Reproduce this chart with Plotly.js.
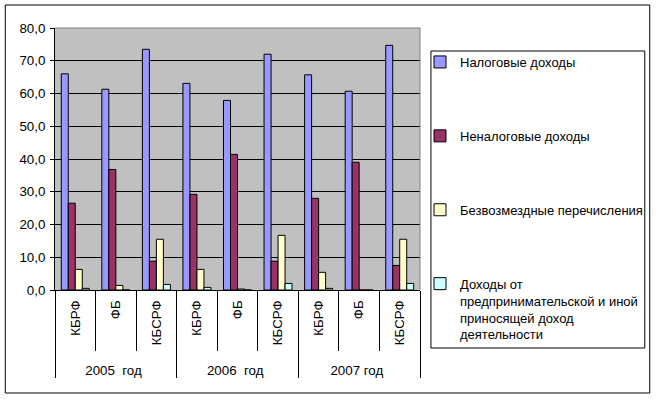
<!DOCTYPE html>
<html>
<head>
<meta charset="utf-8">
<script src="https://cdn.plot.ly/plotly-3.0.1.min.js"></script>
<style>html,body{margin:0;padding:0;background:#fff;}</style>
</head>
<body>
<div id="chart" style="width:660px;height:399px;"></div>
<script>
const years = ['2005\u00a0 год', '2006\u00a0 год', '2007 год'];
const budgets = ['КБРФ', 'ФБ', 'КБСРФ'];
const seriesNames = [
  'Налоговые доходы',
  'Неналоговые доходы',
  'Безвозмездные перечисления',
  'Доходы от<br>предпринимательской и иной<br>приносящей доход<br>деятельности'
];
const taxRevenue    = [66.0, 61.3, 73.5, 63.1, 57.9, 72.0, 65.7, 60.7, 74.7];
const nonTaxRevenue = [26.5, 36.8, 8.8, 29.2, 41.4, 8.8, 28.0, 39.0, 7.5];
const grants        = [6.3, 1.4, 15.5, 6.3, 0.3, 16.7, 5.4, 0.0, 15.5];
const businessIncome= [0.5, 0.0, 1.7, 0.8, 0.0, 2.0, 0.5, 0.0, 2.0];
const colors = ['#9999FF', '#993366', '#FFFFCC', '#CCFFFF'];

const outer = [], inner = [];
years.forEach(y => budgets.forEach(b => { outer.push(y); inner.push('\u00a0\u00a0' + b); }));

const allSeries = [taxRevenue, nonTaxRevenue, grants, businessIncome];
const traces = allSeries.map((vals, i) => ({
  type: 'bar',
  x: [outer, inner],
  y: vals,
  name: seriesNames[i],
  legendgroup: 'g' + i,
  marker: {color: colors[i], line: {color: '#000', width: 1}}
}));

const L = 55, R = 422, T = 28, B = 290;
const px = v => (v - L) / (R - L);
const py = v => (B - v) / (B - T);
const FONT = 'Liberation Sans, Arial, sans-serif';
const FS = 13.33;

const layout = {
  width: 660, height: 399,
  margin: {l: L, r: 660 - R, t: T, b: 399 - B, pad: 0},
  paper_bgcolor: '#fff',
  plot_bgcolor: '#C0C0C0',
  separators: ', ',
  font: {family: FONT, size: FS, color: '#000'},
  barmode: 'group',
  bargap: 0.31,
  bargroupgap: 0,
  showlegend: true,
  legend: {
    xref: 'container', yref: 'container',
    x: 420 / 660, xanchor: 'left',
    y: 1 - 47 / 399, yanchor: 'top',
    maxheight: 380,
    valign: 'top',
    bgcolor: 'rgba(0,0,0,0)', borderwidth: 0,
    tracegroupgap: 54,
    font: {family: FONT, size: 13, color: '#000'},
    itemclick: false
  },
  xaxis: {
    type: 'multicategory',
    showline: true, linecolor: '#000', linewidth: 1,
    ticks: 'outside', tickson: 'boundaries', ticklen: 60, tickcolor: '#000', tickwidth: 1,
    ticklabelstandoff: 4,
    tickangle: -90,
    showdividers: true, dividercolor: '#000', dividerwidth: 1,
    tickfont: {family: FONT, size: FS, color: '#000'},
    showgrid: false, zeroline: false
  },
  yaxis: {
    range: [0, 80], dtick: 10, tickformat: '.1f',
    showline: true, linecolor: '#000', linewidth: 1,
    ticks: 'outside', ticklen: 4, tickcolor: '#000',
    ticklabelstandoff: 2,
    showgrid: true, gridcolor: '#000', gridwidth: 1,
    zeroline: false,
    tickfont: {family: FONT, size: FS, color: '#000'}
  },
  shapes: [
    {type: 'rect', xref: 'paper', yref: 'paper', x0: px(5), x1: px(653), y0: py(393), y1: py(5),
     line: {color: '#000', width: 1}, fillcolor: 'rgba(0,0,0,0)', layer: 'below'},
    {type: 'rect', xref: 'paper', yref: 'paper', x0: px(433), x1: px(648), y0: py(348), y1: py(51),
     line: {color: '#000', width: 1}, fillcolor: 'rgba(0,0,0,0)', layer: 'below'},
    {type: 'line', xref: 'paper', yref: 'paper', x0: 0, x1: 1, y0: 1, y1: 1,
     line: {color: '#808080', width: 1}, layer: 'above'},
    {type: 'line', xref: 'paper', yref: 'paper', x0: 1, x1: 1, y0: 0, y1: 1,
     line: {color: '#808080', width: 1}, layer: 'above'}
  ]
};

Plotly.newPlot('chart', traces, layout, {staticPlot: true, displayModeBar: false});
</script>
</body>
</html>
